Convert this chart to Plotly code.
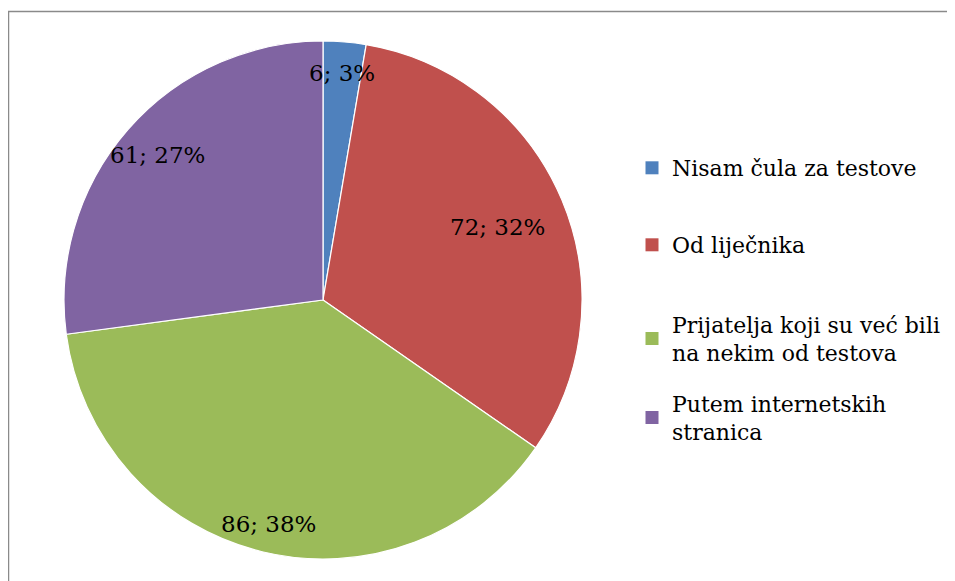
import math
import plotly.graph_objects as go

# data
labels = ["Nisam čula za testove", "Od liječnika",
          "Prijatelja koji su već bili<br>na nekim od testova",
          "Putem internetskih<br>stranica"]
values = [6, 72, 86, 61]
colors = ["#4F81BD", "#C0504D", "#9BBB59", "#8064A2"]

W, H = 955, 581
OFF = 8   # page body margin shifts the figure by this much
FONT = "DejaVu Serif, serif"

# pie placement (px, in screenshot coordinates)
cx, cy, R = 323 - OFF, 300 - OFF, 259
label_r = [0.88, 0.73, 0.89, 0.85]      # radial position of each data label
legend_y = [168, 245, 339, 418]          # legend entry centres

fig = go.Figure()
fig.add_trace(go.Pie(
    labels=labels, values=values, sort=False, direction="clockwise", rotation=0,
    marker=dict(colors=colors, line=dict(color="white", width=1.2)),
    textinfo="none", showlegend=False, hoverinfo="label+value+percent",
    domain=dict(x=[(cx - R) / W, (cx + R) / W], y=[1 - (cy + R) / H, 1 - (cy - R) / H]),
))

# data labels "value; pct%" at slice mid angles
total = sum(values)
cum = 0
annotations = []
for v, f in zip(values, label_r):
    mid = (cum + v / 2) / total * 2 * math.pi
    cum += v
    x = cx + f * R * math.sin(mid)
    y = cy - f * R * math.cos(mid)
    annotations.append(dict(
        x=x / W, y=1 - y / H, xref="paper", yref="paper", showarrow=False,
        xanchor="center", yanchor="middle",
        text=f"{v}; {round(v / total * 100)}%",
        font=dict(family=FONT, size=23, color="black"),
    ))

# legend: dummy traces, one legend each so spacing can follow the reference
legends = {}
for i, (lab, col, ly) in enumerate(zip(labels, colors, legend_y)):
    key = "legend" if i == 0 else f"legend{i + 1}"
    fig.add_trace(go.Scatter(
        x=[None], y=[None], mode="markers", name=lab, legend=key,
        marker=dict(symbol="square", color=col, size=13),
    ))
    legends[key] = dict(
        x=(632 - OFF) / W, xanchor="left", y=1 - (ly - OFF) / H, yanchor="middle",
        font=dict(family=FONT, size=22, color="black"),
        bgcolor="rgba(0,0,0,0)", itemwidth=30,
    )

fig.update_layout(
    width=W, height=H,
    margin=dict(l=0, r=0, t=0, b=0),
    paper_bgcolor="white", plot_bgcolor="white",
    xaxis=dict(visible=False), yaxis=dict(visible=False),
    annotations=annotations,
    shapes=[dict(type="rect", xref="paper", yref="paper",
                 x0=0.5 / W, x1=1.05, y0=-0.05, y1=1 - 3.5 / H,
                 line=dict(color="#8a8a8a", width=1.5), layer="below")],
    **legends,
)

fig.write_html("out.html")
